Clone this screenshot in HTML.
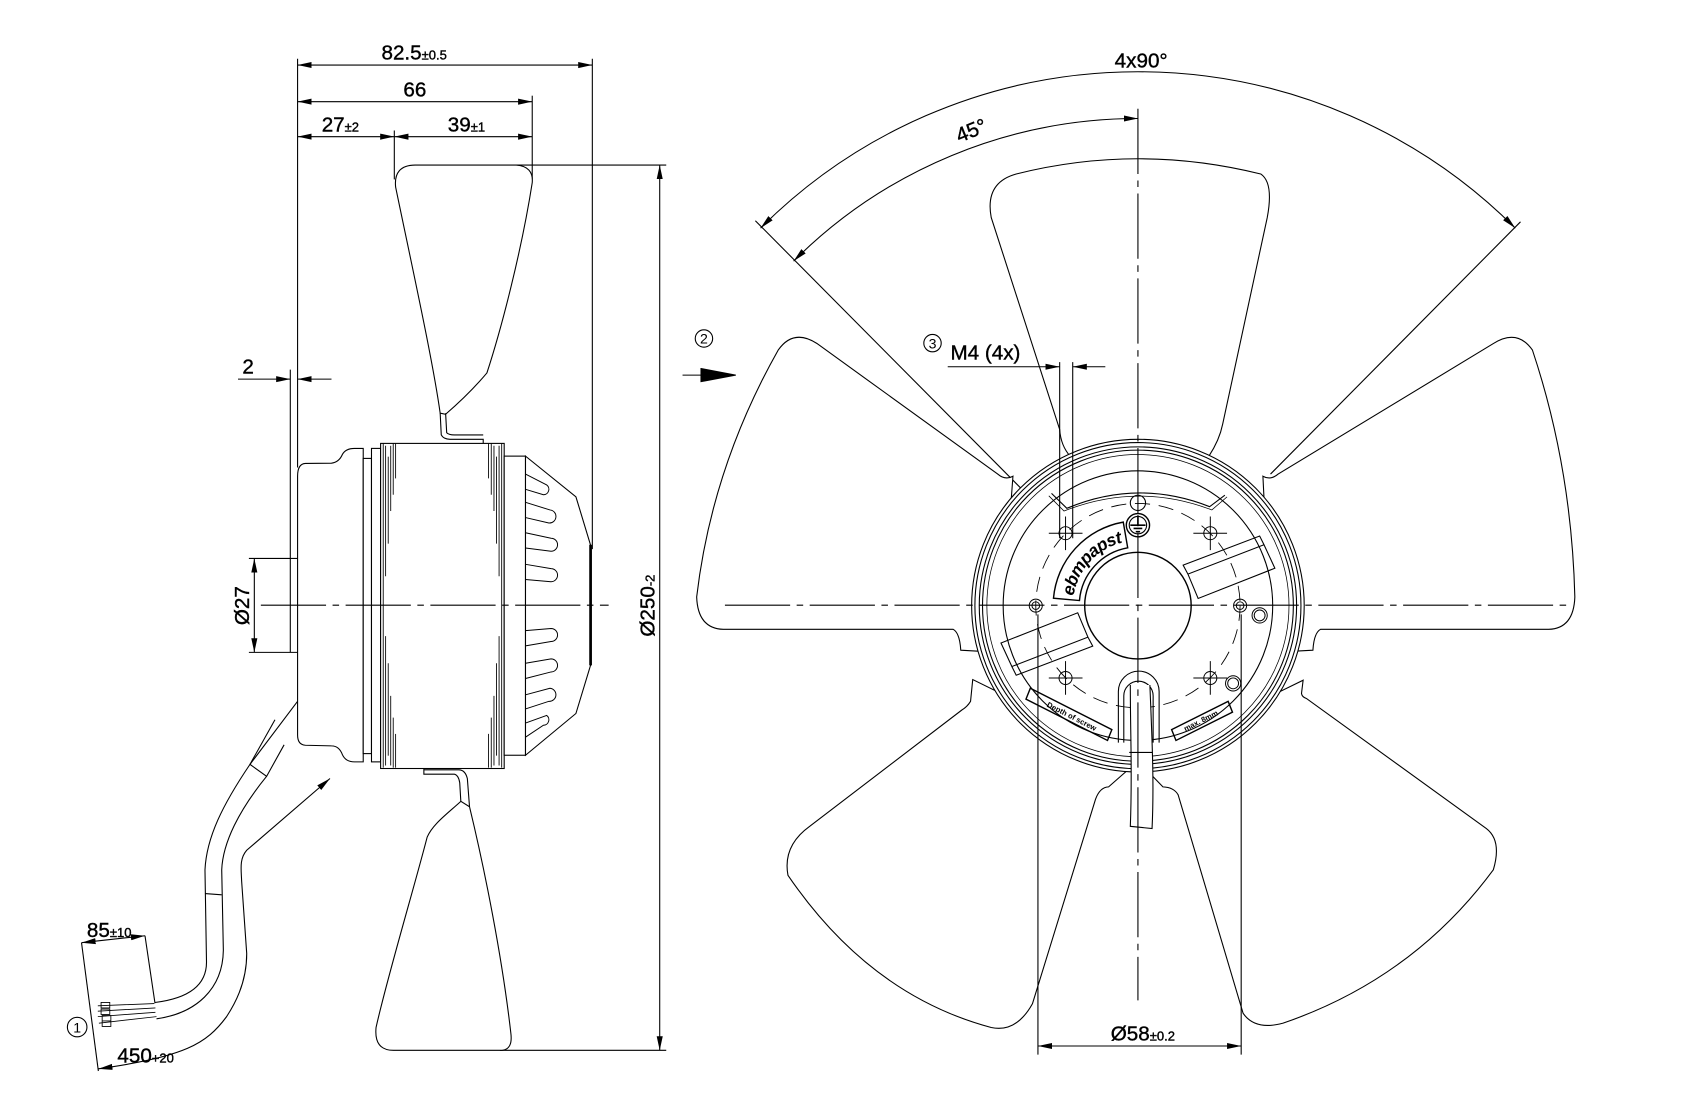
<!DOCTYPE html>
<html><head><meta charset="utf-8"><style>
html,body{margin:0;padding:0;background:#fff;}
svg{display:block;}
text{font-family:"Liberation Sans Narrow","Liberation Sans",sans-serif;fill:#000;}
</style></head><body>
<svg width="1702" height="1096" viewBox="0 0 1566 1008" preserveAspectRatio="none" xmlns="http://www.w3.org/2000/svg">
<defs>
<marker id="a" markerUnits="userSpaceOnUse" markerWidth="14" markerHeight="8" refX="13" refY="4" orient="auto-start-reverse"><path d="M0,1.2 L13,4 L0,6.8 z" fill="#000"/></marker>
<path id="lg" d="M983.2,551.4 A64,64 0 0 1 1035.9,494"/>
</defs>
<rect width="1566" height="1008" fill="#fff"/>
<g fill="none" stroke="#000" stroke-width="1">

<!-- ===== SIDE VIEW ===== -->
<line x1="273.8" y1="59.8" x2="545" y2="59.8" marker-start="url(#a)" marker-end="url(#a)"/>
<line x1="273.8" y1="93.5" x2="489.7" y2="93.5" marker-start="url(#a)" marker-end="url(#a)"/>
<line x1="273.8" y1="125.7" x2="362.8" y2="125.7" marker-start="url(#a)" marker-end="url(#a)"/>
<line x1="362.8" y1="125.7" x2="489.7" y2="125.7" marker-start="url(#a)" marker-end="url(#a)"/>
<line x1="273.8" y1="54" x2="273.8" y2="430"/>
<line x1="545" y1="54" x2="545" y2="505"/>
<line x1="489.7" y1="88" x2="489.7" y2="165"/>
<line x1="362.8" y1="120" x2="362.8" y2="165"/>
<line x1="267.1" y1="340" x2="267.1" y2="600"/>
<line x1="267.1" y1="513.6" x2="273.8" y2="513.6"/>
<line x1="219" y1="348.7" x2="267.1" y2="348.7" marker-end="url(#a)"/>
<line x1="305" y1="348.7" x2="273.8" y2="348.7" marker-end="url(#a)"/>
<line x1="234" y1="513.6" x2="234" y2="600" marker-start="url(#a)" marker-end="url(#a)"/>
<line x1="229" y1="513.6" x2="267" y2="513.6"/>
<line x1="229" y1="600" x2="273.8" y2="600"/>
<line x1="607" y1="151.8" x2="607" y2="966" marker-start="url(#a)" marker-end="url(#a)"/>
<line x1="470" y1="151.8" x2="613" y2="151.8"/>
<line x1="460" y1="966" x2="613" y2="966"/>

<path d="M405,380 C398,330 378,240 364,172 Q362,152 382,151.8 L475,151.8 Q491,153 489.7,168 C480,230 462,300 448,343 Q432,362 410,381 Z" fill="#fff"/>
<path d="M405,380 L406,400 Q408,404 414,404 L444.6,404 L444.6,408 M410,380 L411,398 Q413,400 418,400 L444.6,400"/>
<path d="M424,737 C412,748 398,758 393,770 C380,820 356,900 346,945 Q344,966 362,966 L462,966 Q472,965 470,950 C462,880 446,800 432,742 Z" fill="#fff"/>
<path d="M390,707 L390,712 L418,712 Q422,713 423,720 L424,737 M432,742 L430,716 Q428,708 422,708 L390,708"/>

<path d="M273.8,438 Q273.8,426.5 281,426.2 L305,426 Q312,425 315,418 Q318,412.4 326,412.4 L334.2,412.4 L334.2,700.7 L326,700.7 Q318,700.7 315,694 Q312,686 305,686 L281,685.4 Q273.8,685 273.8,676 Z" fill="#fff"/>
<rect x="334.2" y="421.6" width="7.6" height="271.5" fill="#fff"/>
<rect x="341.8" y="412.4" width="8.4" height="288.3" fill="#fff"/>
<rect x="350.2" y="407.8" width="113.7" height="299" fill="#fff"/>
<g stroke-width="0.8">
<line x1="352.6" y1="408" x2="352.6" y2="706"/><line x1="354.8" y1="410" x2="354.8" y2="530"/><line x1="354.8" y1="585" x2="354.8" y2="704"/>
<line x1="357.2" y1="420" x2="357.2" y2="500"/><line x1="357.2" y1="610" x2="357.2" y2="695"/>
<line x1="359.5" y1="410" x2="359.5" y2="470"/><line x1="359.5" y1="640" x2="359.5" y2="704"/>
<line x1="361.8" y1="408" x2="361.8" y2="455"/><line x1="361.8" y1="660" x2="361.8" y2="706"/>
<line x1="364" y1="408" x2="364" y2="440"/><line x1="364" y1="675" x2="364" y2="706"/>
<line x1="461.6" y1="408" x2="461.6" y2="706"/><line x1="459.2" y1="410" x2="459.2" y2="530"/><line x1="459.2" y1="585" x2="459.2" y2="704"/>
<line x1="456.8" y1="420" x2="456.8" y2="500"/><line x1="456.8" y1="610" x2="456.8" y2="695"/>
<line x1="454.5" y1="410" x2="454.5" y2="470"/><line x1="454.5" y1="640" x2="454.5" y2="704"/>
<line x1="452" y1="408" x2="452" y2="455"/><line x1="452" y1="660" x2="452" y2="706"/>
<line x1="449.5" y1="408" x2="449.5" y2="440"/><line x1="449.5" y1="675" x2="449.5" y2="706"/>
</g>
<rect x="463.9" y="419.5" width="19.6" height="275.1" fill="#fff"/>
<path d="M483.5,419.5 L529.9,456.9 L543.4,501.4 L543.4,611.8 L529.9,656.2 L483.5,694.6 Z" fill="#fff"/>
<line x1="543.4" y1="501" x2="543.4" y2="612" stroke-width="2.5"/>
<g stroke-width="0.9">
<path d="M483.5,436 L503,446 A5,5 0 0 1 500,455 L483.5,450"/>
<path d="M483.5,462 L506,469 A6,6 0 0 1 505,481 L483.5,476"/>
<path d="M483.5,490 L507,495 A6,6 0 0 1 507,507 L483.5,504"/>
<path d="M483.5,519 L507,523 A6,6 0 0 1 507,535 L483.5,533"/>
<path d="M483.5,580 L507,578 A6,6 0 0 1 507,590 L483.5,594"/>
<path d="M483.5,610 L507,606 A6,6 0 0 1 507,618 L483.5,624"/>
<path d="M483.5,639 L506,633 A6,6 0 0 1 505,645 L483.5,652"/>
<path d="M483.5,665 L503,658 A5,5 0 0 1 500,667 L483.5,678"/>
</g>
<line x1="240" y1="556.6" x2="560" y2="556.6" stroke-dasharray="60,6,6,6"/>

<path d="M273.8,645 L230,703 L245.3,714 L261.4,685"/>
<line x1="253" y1="662" x2="230" y2="703"/>
<path d="M230,703 C205,740 190,770 188.6,800 L190,885 C190,905 175,918 142.6,922"/>
<path d="M245.3,714 C220,745 205,775 204,800 L205.5,874 C205,910 180,932 144,937"/>
<line x1="188.6" y1="821.8" x2="204" y2="823"/>
<g stroke-width="0.8">
<path d="M142,923 L90,925 M143,927 L90,930 M143,931 L90,935 M144,935 L91,941"/>
<path d="M93,922 h8 v5 h-8z M93,928 h8 v5 h-8z M94,934 h8 v5 h-8z M94,939 h8 v5 h-8z"/>
</g>
<line x1="75" y1="867" x2="133.4" y2="860.6" marker-start="url(#a)" marker-end="url(#a)"/>
<line x1="75" y1="867" x2="90.5" y2="985"/>
<line x1="133.4" y1="860.6" x2="142.6" y2="922.6"/>
<path d="M90.5,983 C170,972 190,960 208.5,935 C215,925 227,905 227,877 L222.3,810 C222,800 220,790 227,782 L303.6,716" marker-start="url(#a)" marker-end="url(#a)"/>
<circle cx="71" cy="944.6" r="9"/>

<!-- ===== FRONT VIEW ===== -->
<path d="M699.8,209.8 A491,491 0 0 1 1394.2,209.8" marker-start="url(#a)" marker-end="url(#a)"/>
<path d="M730.2,240.2 A448,448 0 0 1 1047,109" marker-start="url(#a)" marker-end="url(#a)"/>
<line x1="695" y1="203" x2="982" y2="492"/>
<line x1="1399" y1="204" x2="1169" y2="436"/>

<g fill="#fff">
<path d="M985,420 Q976,410 975,395 L912,200 Q906,168 935,160 Q1047,132 1160,160 Q1172,168 1166,200 L1125,390 Q1122,405 1112,420 Z"/>
<path d="M932,438 Q925,442 918,436 L751.5,315.8 Q730,302 716,322 Q655,430 641,549 Q642,578 665.5,578.8 L877,578.8 Q883,582 884,598 L920,600 Z"/>
<path d="M1162,438 Q1169,442 1176,436 L1374,316 Q1396,302 1410,322 Q1446,430 1449,549 Q1448,578 1425,578.8 L1215,578.8 Q1209,582 1208,598 L1170,600 Z"/>
<path d="M1199,625.6 L1197.5,637.8 Q1198,641 1202,642.4 L1367.6,762 Q1382,773 1374,800 Q1300,900 1180.6,941 Q1155,948 1143.8,932 L1084,731 Q1080,724 1070,723.7 L1047,700 Z"/>
<path d="M895,625 L893,645 Q890,650 885,653 L745,760 Q720,778 725,805 Q800,915 912,945 Q935,950 950,923 L1008,735 Q1012,724 1020,723.7 L1047,700 Z"/>
</g>

<circle cx="1047" cy="557" r="153" fill="#fff"/>
<circle cx="1047" cy="557" r="150"/>
<circle cx="1047" cy="557" r="146"/>
<circle cx="1047" cy="557" r="143"/>
<circle cx="1047" cy="557" r="139" stroke-width="0.7"/>
<circle cx="1047" cy="557" r="124"/>
<circle cx="1047" cy="557" r="94" stroke-dasharray="14,8" stroke-width="0.8"/>
<path d="M967.5,453.8 L981.6,467.5 Q1047,440 1113,466 L1127,455.4"/>
<path d="M965,456 L979,470 Q1047,443 1115,469 L1129,457" stroke-width="0.7"/>
<circle cx="1047" cy="557" r="49" stroke-width="1.3"/>
<circle cx="1047" cy="462.5" r="7"/>
<circle cx="1047" cy="483" r="10.7" stroke-width="1.3"/>
<circle cx="1047" cy="483" r="8"/>
<path d="M1040,483 h14 M1043,486 h8 M1045,489 h4 M1047,474 v9" stroke-width="1.5"/>
<g stroke-width="0.9">
<circle cx="980.4" cy="490.4" r="6"/><circle cx="1113.6" cy="490.4" r="6"/>
<circle cx="980.4" cy="623.6" r="6"/><circle cx="1113.6" cy="623.6" r="6"/>
<circle cx="953" cy="557" r="6"/><circle cx="953" cy="557" r="3.5"/>
<circle cx="1141" cy="557" r="6"/><circle cx="1141" cy="557" r="3.5"/>
<circle cx="1159" cy="566" r="7"/><circle cx="1159" cy="566" r="5"/>
<circle cx="1134.6" cy="628.5" r="7"/><circle cx="1134.6" cy="628.5" r="5"/>
</g>
<path d="M965,490.4 h31 M980.4,475 v31 M1098,490.4 h31 M1113.6,475 v31 M965,623.6 h31 M980.4,608 v31 M1098,623.6 h31 M1113.6,608 v31" stroke-width="0.9"/>
<path d="M1088.6,519.8 L1159,493 L1163,501 L1093,528 Z M1093,528 L1102.4,550.4 L1173,522.6 L1163,501"/>
<path d="M1005.4,594.2 L935,621 L931,613 L1001,586 Z M1001,586 L991.6,563.6 L921,591.4 L931,613"/>
<!-- logo band -->
<path d="M969.3,550.2 A78,78 0 0 1 1033.5,480.2 L1037.6,503.8 A54,54 0 0 0 993.2,552.3 Z" stroke-width="1.3" fill="#fff"/>
<path d="M948,633 L1023,671 L1019,681 L944,643 Z" stroke-width="1.3"/>
<path d="M1078,671 L1130,645 L1134,655 L1082,681 Z" stroke-width="1.3"/>
<path d="M1029,683 L1029,636 A18.7,18.7 0 0 1 1066.5,636 L1066.5,683"/>
<path d="M1034,683 L1034,640 A13.5,13.5 0 0 1 1061,640 L1061,683"/>
<path d="M1040,630 C1040,680 1042,710 1040,760 L1060,762 C1062,720 1060,680 1058,630" fill="#fff"/>
<line x1="1039" y1="692" x2="1060" y2="692"/>

<line x1="1047" y1="100" x2="1047" y2="920" stroke-dasharray="60,6,6,6"/>
<line x1="667" y1="556.6" x2="1447" y2="556.6" stroke-dasharray="60,6,6,6"/>

<line x1="955" y1="565" x2="955" y2="970"/>
<line x1="1142" y1="565" x2="1142" y2="970"/>
<line x1="955" y1="962" x2="1142" y2="962" marker-start="url(#a)" marker-end="url(#a)"/>
<line x1="975" y1="333" x2="975" y2="495"/>
<line x1="987" y1="333" x2="987" y2="495"/>
<line x1="872" y1="337.3" x2="975" y2="337.3" marker-end="url(#a)"/>
<line x1="1017" y1="337.3" x2="987" y2="337.3" marker-end="url(#a)"/>
<circle cx="858" cy="315.6" r="8"/>
<circle cx="647.7" cy="311.3" r="8"/>
<line x1="628" y1="345" x2="660" y2="345"/>
<path d="M645,339 L677,345 L645,351 Z" fill="#000"/>
</g>

<g font-size="19" stroke="#000" stroke-width="0.35">
<text x="351" y="54.6">82.5<tspan font-size="12">±0.5</tspan></text>
<text x="381.7" y="88.9" text-anchor="middle">66</text>
<text x="296" y="121">27<tspan font-size="12">±2</tspan></text>
<text x="412" y="121">39<tspan font-size="12">±1</tspan></text>
<text x="223" y="343.4">2</text>
<text transform="translate(229,557) rotate(-90)" text-anchor="middle">Ø27</text>
<text transform="translate(602,557) rotate(-90)" text-anchor="middle">Ø250<tspan font-size="12">-2</tspan></text>
<text x="80" y="862">85<tspan font-size="12">±10</tspan></text>
<text x="108" y="977">450<tspan font-size="12">+20</tspan></text>
<text x="1050" y="62" text-anchor="middle">4x90°</text>
<text transform="translate(896,126) rotate(-22)" text-anchor="middle">45°</text>
<text x="874.5" y="330.6">M4 (4x)</text>
<text x="1022" y="957">Ø58<tspan font-size="12">±0.2</tspan></text>
</g>
<g font-size="13" text-anchor="middle">
<text x="71" y="949.5">1</text>
<text x="647.7" y="316">2</text>
<text x="858" y="320.3">3</text>
</g>
<text font-size="16" font-weight="bold" font-style="italic"><textPath href="#lg" startOffset="50%" text-anchor="middle" dominant-baseline="middle">ebmpapst</textPath></text>
<text transform="translate(985,661) rotate(27)" font-size="7" font-weight="bold" text-anchor="middle">Depth of screw</text>
<text transform="translate(1106,665) rotate(-27)" font-size="7" font-weight="bold" text-anchor="middle">max. 8mm</text>
</svg>
</body></html>
